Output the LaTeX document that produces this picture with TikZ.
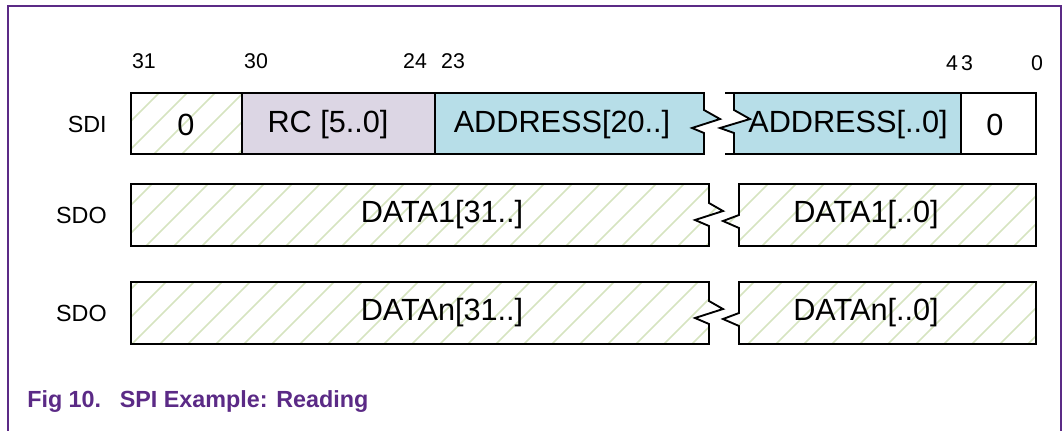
\documentclass[tikz,border=0pt]{standalone}
\usepackage{fontspec}
\setmainfont{Liberation Sans}
\usepackage{xcolor}

\definecolor{nxppurple}{RGB}{91,42,134}
\definecolor{rclilac}{RGB}{220,214,228}
\definecolor{addrblue}{RGB}{183,222,232}
\definecolor{hatchgreen}{RGB}{214,228,192}

\tikzset{
  cell/.style={draw=black, line width=1.4pt, line join=miter},
  hatched/.style={path picture={
    \foreach \i in {-440,-412,...,1080}
      \draw[hatchgreen, line width=1.1pt] (\i,440) -- ++(440,-440);}},
  bitnum/.style={font=\fontsize{16}{18}\selectfont},
  rowname/.style={font=\fontsize{17.5}{20}\selectfont, anchor=east, inner sep=0pt},
  field/.style={font=\fontsize{23}{26}\selectfont},
}

\begin{document}
\begin{tikzpicture}[x=0.75pt, y=-0.75pt]
\useasboundingbox (0,0) rectangle (1063,430);

% Frame
\draw[nxppurple, line width=1.5pt] (8,431) -- (8,6) -- (1061,6) -- (1061,431);

% Bit numbers
\node[bitnum] (b31) at (144,61) {31};
\node[bitnum] (b30) at (256,61) {30};
\node[bitnum] (b24) at (415,61) {24};
\node[bitnum] (b23) at (453,61) {23};
\node[bitnum] (b4) at (952,63) {4};
\node[bitnum] (b3) at (967,63) {3};
\node[bitnum] (b0) at (1037,63) {0};

% SDI word
\path[hatched] (131,93) rectangle (242,154);
\fill[rclilac] (242,93) rectangle (435,154);
\fill[addrblue] (435,93) -- (704,93) -- (704,110) -- (720,119) -- (692,128) -- (704,133) -- (704,154) -- (435,154) -- cycle;
\fill[addrblue] (734,93) -- (961,93) -- (961,154) -- (734,154) -- (734,133) -- (720,128) -- (750,119) -- (734,110) -- cycle;
\draw[cell] (704,93) -- (131,93) -- (131,154) -- (704,154) -- (704,133) -- (692,128) -- (720,119) -- (704,110) -- cycle;
\draw[cell] (725,93) -- (1036,93) -- (1036,154) -- (725,154);
\draw[cell] (734,93) -- (734,110) -- (750,119) -- (720,128) -- (734,133) -- (734,154);
\foreach \x in {242,435,961}
  \draw[cell] (\x,93) -- (\x,154);

\node[rowname] (sdi) at (107,124) {SDI};
\node[field] (f0) at (186,125) {0};
\node[field] (frc) at (328,125) {RC [5..0]};
\node[field] (fahi) at (562,125) {ADDRESS[20..]};
\node[field] (falo) at (848,125) {ADDRESS[..0]};
\node[field] (fz) at (995,125) {0};

% SDO words
\foreach \y/\w in {184/1, 282/n} {
  \path[hatched, cell] (709,\y) -- (131,\y) -- (131,\y+62) -- (709,\y+62) -- (709,\y+42)
    -- (695,\y+36) -- (723,\y+27) -- (709,\y+19) -- cycle;
  \path[hatched, cell] (1036,\y) -- (739,\y) -- (739,\y+31) -- (723,\y+37) -- (739,\y+44)
    -- (739,\y+62) -- (1036,\y+62) -- cycle;
  \node[rowname] (sdo\w) at (107,\y+31) {SDO};
  \node[field] (data\w hi) at (442,\y+31) {DATA\w[31..]};
  \node[field] (data\w lo) at (866,\y+31) {DATA\w[..0]};
}

% Caption
\node[anchor=base west, inner sep=0pt, text=nxppurple, font=\bfseries\fontsize{17.5}{20}\selectfont]
  (caption) at (27,407) {Fig 10.\hspace{14pt}SPI Example: Reading};
\end{tikzpicture}
\end{document}
